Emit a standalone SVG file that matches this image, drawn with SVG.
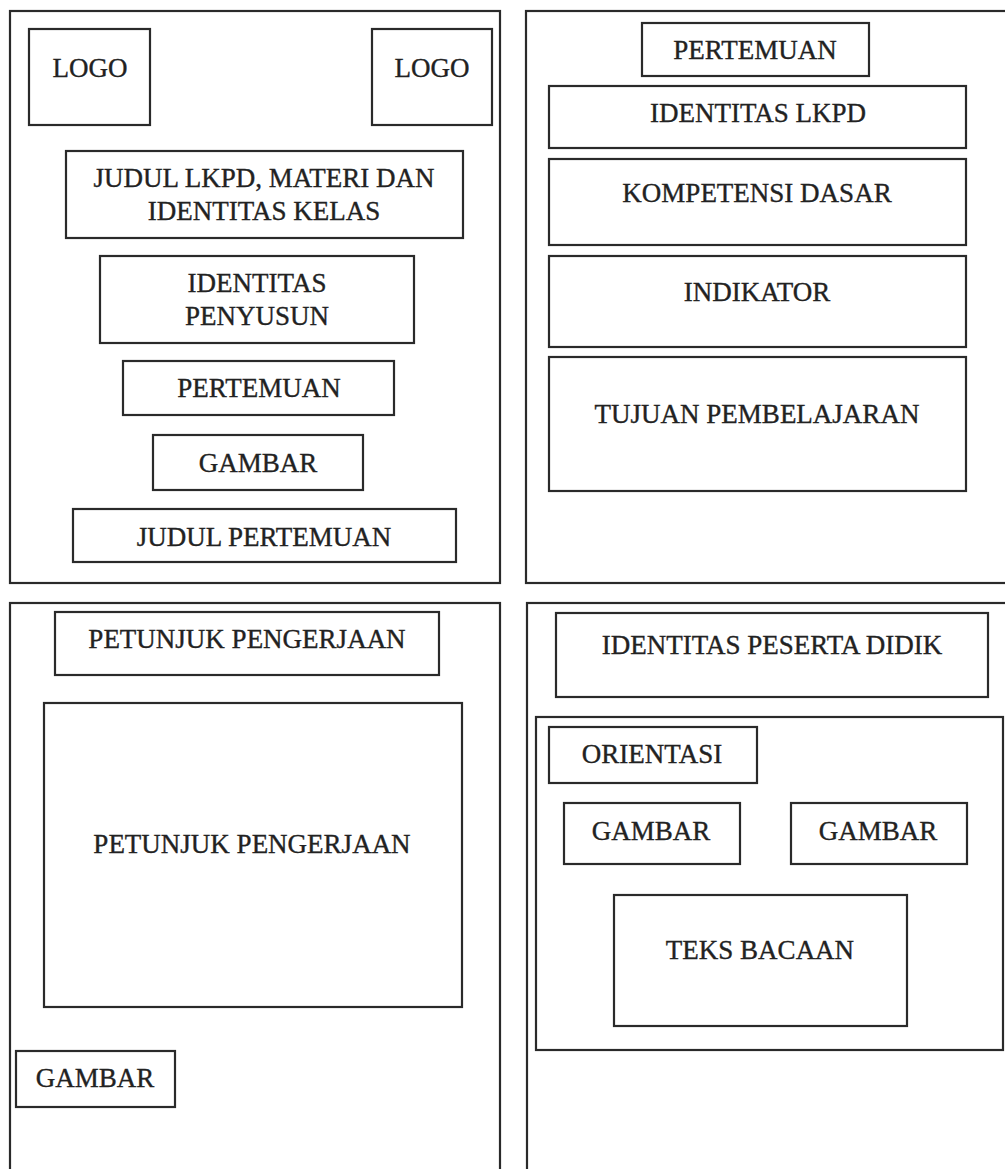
<svg xmlns="http://www.w3.org/2000/svg" width="1005" height="1169" viewBox="0 0 1005 1169">
<style>
rect{fill:none;stroke:#2a2a2a;stroke-width:2.2}
text{font-family:"Liberation Serif","Times New Roman",serif;font-size:27px;fill:#222;stroke:#222;stroke-width:0.35;text-anchor:middle}
</style>
<rect x="0" y="0" width="1005" height="1169" style="fill:#fff;stroke:none"/>
<g id="panel-cover">
<rect x="10" y="11" width="490" height="572"/>
<g id="logo-left"><rect x="29" y="29" width="121" height="96"/><text x="90" y="77">LOGO</text></g>
<g id="logo-right"><rect x="372" y="29" width="120" height="96"/><text x="432" y="77">LOGO</text></g>
<g id="judul-lkpd"><rect x="66" y="151" width="397" height="87"/><text x="264" y="187">JUDUL LKPD, MATERI DAN</text><text x="264" y="220">IDENTITAS KELAS</text></g>
<g id="identitas-penyusun"><rect x="100" y="256" width="314" height="87"/><text x="257" y="292">IDENTITAS</text><text x="257" y="325">PENYUSUN</text></g>
<g id="pertemuan-cover"><rect x="123" y="361" width="271" height="54"/><text x="259" y="397">PERTEMUAN</text></g>
<g id="gambar-cover"><rect x="153" y="435" width="210" height="55"/><text x="258" y="472">GAMBAR</text></g>
<g id="judul-pertemuan"><rect x="73" y="509" width="383" height="53"/><text x="264" y="546">JUDUL PERTEMUAN</text></g>
</g>
<g id="panel-identity">
<rect x="526" y="11" width="500" height="572"/>
<g id="pertemuan-top"><rect x="642" y="23" width="227" height="53"/><text x="755" y="59">PERTEMUAN</text></g>
<g id="identitas-lkpd"><rect x="549" y="86" width="417" height="62"/><text x="758" y="122">IDENTITAS LKPD</text></g>
<g id="kompetensi-dasar"><rect x="549" y="159" width="417" height="86"/><text x="757" y="202">KOMPETENSI DASAR</text></g>
<g id="indikator"><rect x="549" y="256" width="417" height="91"/><text x="757" y="301">INDIKATOR</text></g>
<g id="tujuan"><rect x="549" y="357" width="417" height="134"/><text x="757" y="423">TUJUAN PEMBELAJARAN</text></g>
</g>
<g id="panel-petunjuk">
<rect x="10" y="603" width="490" height="600"/>
<g id="petunjuk-title"><rect x="55" y="612" width="384" height="63"/><text x="247" y="648">PETUNJUK PENGERJAAN</text></g>
<g id="petunjuk-body"><rect x="44" y="703" width="418" height="304"/><text x="252" y="853">PETUNJUK PENGERJAAN</text></g>
<g id="gambar-petunjuk"><rect x="16" y="1051" width="159" height="56"/><text x="95" y="1087">GAMBAR</text></g>
</g>
<g id="panel-orientasi">
<rect x="527" y="603" width="500" height="600"/>
<g id="identitas-peserta"><rect x="556" y="613" width="432" height="84"/><text x="772" y="654">IDENTITAS PESERTA DIDIK</text></g>
<g id="orientasi-container"><rect x="536" y="717" width="467" height="333"/>
<g id="orientasi"><rect x="549" y="727" width="208" height="56"/><text x="652" y="763">ORIENTASI</text></g>
<g id="gambar-1"><rect x="564" y="803" width="176" height="61"/><text x="651" y="840">GAMBAR</text></g>
<g id="gambar-2"><rect x="791" y="803" width="176" height="61"/><text x="878" y="840">GAMBAR</text></g>
<g id="teks-bacaan"><rect x="614" y="895" width="293" height="131"/><text x="760" y="959">TEKS BACAAN</text></g>
</g>
</g>
<g id="connectors"/>
</svg>
